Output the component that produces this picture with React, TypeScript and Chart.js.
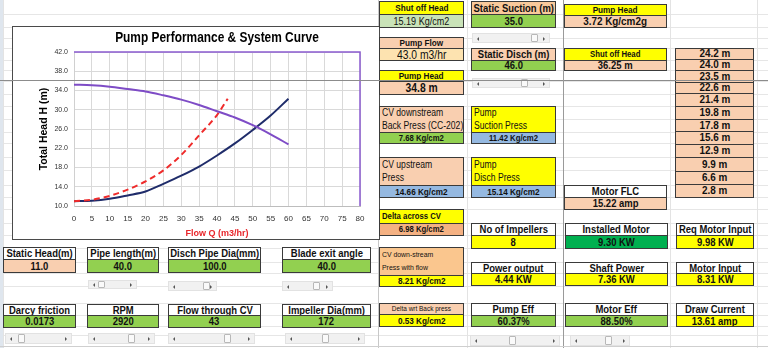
import React, { useEffect, useRef } from "react";
import { Chart, registerables } from "chart.js";

Chart.register(...registerables);

// ---------------- chart data ----------------
const chartTitle = "Pump Performance & System Curve";
const xAxisTitle = "Flow Q (m3/hr)";
const yAxisTitle = "Total Head H (m)";

const pumpFlow = [0, 5, 10, 15, 20, 25, 30, 35, 40, 45, 50, 55, 60];
const pumpHead = [35.2, 35.1, 34.8, 34.3, 33.8, 33.0, 32.1, 31.0, 29.7, 28.4, 26.8, 24.9, 22.8];

const systemFlow = [0, 5, 10, 15, 20, 25, 30, 35, 40, 45, 50, 55, 60];
const systemHead = [11.0, 11.1, 11.5, 12.2, 13.0, 14.6, 16.3, 18.2, 20.5, 23.0, 25.8, 28.8, 32.3];

const cvFlow = [0, 5, 10, 15, 20, 25, 30, 35, 40, 43];
const cvHead = [11.0, 11.3, 12.1, 13.4, 15.1, 17.4, 20.6, 24.7, 28.9, 32.3];

const xMin = 0;
const xMax = 80;
const xStep = 5;
const yMin = 10;
const yMax = 42;
const yStep = 4;

// table of heads shown at the right
const headList = ["24.2 m", "24.0 m", "23.5 m", "22.6 m", "21.4 m", "19.8 m", "17.8 m", "15.6 m", "12.9 m", "9.9 m", "6.6 m", "2.8 m"];

// ---------------- styles ----------------
const FONT = "'Liberation Sans', Arial, sans-serif";
const Y = "#ffff00";
const S = "#f9cfb0";
const G = "#92d050";
const LB = "#95b9e1";
const W = "#ffffff";

type CellDef = {
  x: number; y: number; w: number; h: number;
  t?: string; lines?: string[];
  bg: string; fs?: number; fw?: number; left?: boolean; noBorder?: boolean;
};

const cells: CellDef[] = [
  // column A
  { x: 379, y: 1, w: 85, h: 14, t: "Shut off Head", bg: Y, fs: 9.5 },
  { x: 379, y: 14, w: 85, h: 14, t: "15.19 Kg/cm2", bg: "#c9e3b8", fs: 10.5, fw: 400 },
  { x: 379, y: 37, w: 85, h: 12, t: "Pump Flow", bg: S, fs: 9.5 },
  { x: 379, y: 48, w: 85, h: 13, t: "43.0 m3/hr", bg: "#fde3b0", fs: 12, fw: 400 },
  { x: 379, y: 70, w: 85, h: 12, t: "Pump Head", bg: Y, fs: 9.5 },
  { x: 379, y: 81, w: 85, h: 14, t: "34.8 m", bg: S, fs: 12 },
  { x: 379, y: 106, w: 85, h: 27, lines: ["CV downstream", "Back Press (CC-202)"], bg: S, fs: 10, fw: 400, left: true },
  { x: 379, y: 132, w: 85, h: 12, t: "7.68 Kg/cm2", bg: G, fs: 9 },
  { x: 379, y: 157, w: 85, h: 29, lines: ["CV upstream", "Press"], bg: S, fs: 10, fw: 400, left: true },
  { x: 379, y: 185, w: 85, h: 13, t: "14.66 Kg/cm2", bg: LB, fs: 9.5 },
  { x: 379, y: 209, w: 85, h: 15, t: "Delta across CV", bg: Y, fs: 9, left: true },
  { x: 379, y: 223, w: 85, h: 13, t: "6.98 Kg/cm2", bg: "#f4b183", fs: 9 },
  { x: 379, y: 247, w: 85, h: 29, lines: ["CV down-stream", "Press with flow"], bg: "#fac68e", fs: 8, fw: 400, left: true },
  { x: 379, y: 275, w: 85, h: 12, t: "8.21 Kg/cm2", bg: Y, fs: 9.5 },
  { x: 379, y: 303, w: 85, h: 12, t: "Delta wrt Back press", bg: S, fs: 7.5, fw: 400 },
  { x: 379, y: 314, w: 85, h: 13, t: "0.53 Kg/cm2", bg: Y, fs: 9.5 },
  // column B
  { x: 471, y: 1, w: 85, h: 14, t: "Static Suction (m)", bg: "#f9c99b", fs: 11 },
  { x: 471, y: 14, w: 85, h: 14, t: "35.0", bg: G, fs: 11 },
  { x: 471, y: 48, w: 85, h: 13, t: "Static Disch (m)", bg: S, fs: 11 },
  { x: 471, y: 60, w: 85, h: 11, t: "46.0", bg: G, fs: 11 },
  { x: 471, y: 106, w: 85, h: 27, lines: ["Pump", "Suction Press"], bg: Y, fs: 10, fw: 400, left: true },
  { x: 471, y: 132, w: 85, h: 12, t: "11.42 Kg/cm2", bg: LB, fs: 9 },
  { x: 471, y: 157, w: 85, h: 29, lines: ["Pump", "Disch Press"], bg: Y, fs: 10, fw: 400, left: true },
  { x: 471, y: 185, w: 85, h: 13, t: "15.14 Kg/cm2", bg: LB, fs: 9.5 },
  { x: 471, y: 223, w: 85, h: 13, t: "No of Impellers", bg: W, fs: 11 },
  { x: 471, y: 235, w: 85, h: 14, t: "8", bg: Y, fs: 11 },
  { x: 471, y: 262, w: 85, h: 12, t: "Power output", bg: W, fs: 11 },
  { x: 471, y: 273, w: 85, h: 13, t: "4.44 KW", bg: Y, fs: 11 },
  { x: 471, y: 303, w: 85, h: 13, t: "Pump Eff", bg: W, fs: 11 },
  { x: 471, y: 315, w: 85, h: 12, t: "60.37%", bg: G, fs: 11 },
  // column C
  { x: 564, y: 4, w: 103, h: 12, t: "Pump Head", bg: Y, fs: 9.5 },
  { x: 564, y: 15, w: 103, h: 13, t: "3.72 Kg/cm2g", bg: S, fs: 11.5 },
  { x: 564, y: 48, w: 103, h: 13, t: "Shut off Head", bg: Y, fs: 9 },
  { x: 564, y: 60, w: 103, h: 11, t: "36.25 m", bg: S, fs: 11 },
  { x: 564, y: 185, w: 103, h: 13, t: "Motor FLC", bg: W, fs: 11 },
  { x: 564, y: 197, w: 103, h: 13, t: "15.22 amp", bg: S, fs: 11 },
  { x: 565, y: 223, w: 103, h: 13, t: "Installed Motor", bg: W, fs: 11 },
  { x: 565, y: 235, w: 103, h: 14, t: "9.30 KW", bg: "#00b050", fs: 11 },
  { x: 565, y: 262, w: 103, h: 12, t: "Shaft Power", bg: W, fs: 11 },
  { x: 565, y: 273, w: 103, h: 13, t: "7.36 KW", bg: Y, fs: 11 },
  { x: 565, y: 303, w: 103, h: 13, t: "Motor Eff", bg: W, fs: 11 },
  { x: 565, y: 315, w: 103, h: 12, t: "88.50%", bg: G, fs: 11 },
  // column D
  { x: 676, y: 223, w: 78, h: 13, t: "Req Motor Input", bg: W, fs: 11 },
  { x: 676, y: 235, w: 78, h: 14, t: "9.98 KW", bg: Y, fs: 11 },
  { x: 676, y: 262, w: 78, h: 12, t: "Motor Input", bg: W, fs: 11 },
  { x: 676, y: 273, w: 78, h: 13, t: "8.31 KW", bg: Y, fs: 11 },
  { x: 676, y: 303, w: 78, h: 13, t: "Draw Current", bg: W, fs: 11 },
  { x: 676, y: 315, w: 78, h: 12, t: "13.61 amp", bg: Y, fs: 11 },
  // below chart
  { x: 3, y: 247, w: 73, h: 13, t: "Static Head(m)", bg: W, fs: 11 },
  { x: 3, y: 259, w: 73, h: 14, t: "11.0", bg: S, fs: 11 },
  { x: 87, y: 247, w: 72, h: 13, t: "Pipe length(m)", bg: W, fs: 11 },
  { x: 87, y: 259, w: 72, h: 14, t: "40.0", bg: G, fs: 11 },
  { x: 168, y: 247, w: 93, h: 13, t: "Disch Pipe Dia(mm)", bg: W, fs: 11 },
  { x: 168, y: 259, w: 93, h: 14, t: "100.0", bg: G, fs: 11 },
  { x: 282, y: 247, w: 89, h: 13, t: "Blade exit angle", bg: W, fs: 11 },
  { x: 282, y: 259, w: 89, h: 14, t: "40.0", bg: G, fs: 11 },
  { x: 3, y: 304, w: 73, h: 12, t: "Darcy friction", bg: W, fs: 11 },
  { x: 3, y: 315, w: 73, h: 13, t: "0.0173", bg: G, fs: 11 },
  { x: 87, y: 304, w: 72, h: 12, t: "RPM", bg: W, fs: 11 },
  { x: 87, y: 315, w: 72, h: 13, t: "2920", bg: G, fs: 11 },
  { x: 168, y: 304, w: 93, h: 12, t: "Flow through CV", bg: W, fs: 11 },
  { x: 168, y: 315, w: 93, h: 13, t: "43", bg: G, fs: 11 },
  { x: 282, y: 304, w: 89, h: 12, t: "Impeller Dia(mm)", bg: W, fs: 11 },
  { x: 282, y: 315, w: 89, h: 13, t: "172", bg: G, fs: 11 },
];

const headRowTops = [48, 59, 70, 82, 93, 106, 119, 131, 144, 157, 171, 184, 197];

// scrollbars: x, y, w, h, thumb left
const scrollbars: number[][] = [
  [472, 33, 78, 10, 530],
  [472, 78, 78, 10, 520],
  [88, 280, 49, 9, 97],
  [168, 281, 49, 10, 202],
  [282, 281, 51, 10, 312],
  [5, 333, 67, 11, 17],
  [88, 333, 67, 11, 127],
  [168, 333, 87, 11, 223],
  [285, 333, 80, 11, 321],
  [470, 335, 90, 11, 508],
  [570, 335, 60, 11, 604],
];

const gridRows = [14, 27, 38, 48, 60, 70, 81, 94, 106, 119, 132, 143, 157, 170, 185, 197, 209, 223, 235, 248, 262, 273, 286, 303, 315, 326, 335];
const gridCols = [3, 378, 467, 670, 757];

function Cell({ c }: { c: CellDef }) {
  const fs = c.fs ?? 11;
  const fw = c.fw ?? 700;
  const lines = c.lines ?? [c.t ?? ""];
  return (
    <div
      style={{
        position: "absolute",
        left: c.x,
        top: c.y,
        width: c.w,
        height: c.h,
        boxSizing: "border-box",
        border: c.noBorder ? "none" : "1px solid #3a3a3a",
        background: c.bg,
        display: "flex",
        flexDirection: "column",
        justifyContent: c.lines ? "space-around" : "center",
        alignItems: c.left ? "flex-start" : "center",
        paddingLeft: c.left ? 2 : 0,
        fontFamily: FONT,
        fontSize: fs,
        fontWeight: fw,
        lineHeight: 1,
        color: "#111",
        overflow: "hidden",
        whiteSpace: "nowrap",
      }}
    >
      {lines.map((l, i) => (
        <span
          key={i}
          style={{
            display: "inline-block",
            transform: "scaleX(0.86)",
            transformOrigin: c.left ? "left center" : "center center",
          }}
        >
          {l}
        </span>
      ))}
    </div>
  );
}

function Scrollbar({ s }: { s: number[] }) {
  const [x, y, w, h, tl] = s;
  const tri = (dir: "l" | "r") => ({
    position: "absolute" as const,
    top: h / 2 - 2.5,
    [dir === "l" ? "left" : "right"]: 4,
    width: 0,
    height: 0,
    borderTop: "2.5px solid transparent",
    borderBottom: "2.5px solid transparent",
    [dir === "l" ? "borderRight" : "borderLeft"]: "2.5px solid #555",
  });
  return (
    <div style={{ position: "absolute", left: x, top: y, width: w, height: h, boxSizing: "border-box", background: "#f1f1f1", border: "1px solid #e2e2e2" }}>
      <div style={tri("l")} />
      <div style={tri("r")} />
      <div style={{ position: "absolute", left: tl - x, top: 0, width: 7, height: h - 2, boxSizing: "border-box", background: "#fafafa", border: "1px solid #b8b8b8", borderRadius: 1 }} />
    </div>
  );
}

function PumpChart() {
  const ref = useRef<HTMLCanvasElement | null>(null);
  useEffect(() => {
    if (!ref.current) return;
    const toPts = (xs: number[], ys: number[]) => xs.map((x, i) => ({ x, y: ys[i] }));
    const decor = {
      id: "decor",
      beforeDatasetsDraw(chart: any) {
        const { ctx, chartArea } = chart;
        ctx.save();
        ctx.strokeStyle = "#8a5bd0";
        ctx.lineWidth = 1.5;
        ctx.beginPath();
        ctx.moveTo(chartArea.left, chartArea.top);
        ctx.lineTo(chartArea.right, chartArea.top);
        ctx.lineTo(chartArea.right, chartArea.bottom);
        ctx.stroke();
        ctx.restore();
      },
      afterDraw(chart: any) {
        const { ctx, chartArea } = chart;
        ctx.save();
        const cx = (chartArea.left + chartArea.right) / 2;
        ctx.translate(cx, 11);
        ctx.scale(0.85, 1);
        ctx.font = "bold 14px 'Liberation Sans', Arial, sans-serif";
        ctx.fillStyle = "#000";
        ctx.textAlign = "center";
        ctx.textBaseline = "middle";
        ctx.fillText(chartTitle, 0, 0);
        ctx.restore();
      },
    };
    const chart = new Chart(ref.current, {
      type: "scatter",
      data: {
        datasets: [
          {
            label: "Pump curve",
            data: toPts(pumpFlow, pumpHead),
            showLine: true,
            borderColor: "#7e4cc6",
            borderWidth: 2,
            pointRadius: 0,
            cubicInterpolationMode: "monotone",
          },
          {
            label: "CV system curve",
            data: toPts(cvFlow, cvHead),
            showLine: true,
            borderColor: "#ef2b2b",
            borderWidth: 2,
            borderDash: [6, 4],
            pointRadius: 0,
            cubicInterpolationMode: "monotone",
          },
          {
            label: "System curve",
            data: toPts(systemFlow, systemHead),
            showLine: true,
            borderColor: "#1f2c6a",
            borderWidth: 2,
            pointRadius: 0,
            cubicInterpolationMode: "monotone",
          },
        ],
      },
      options: {
        animation: false,
        responsive: false,
        layout: { padding: { left: 0, right: 19, top: 25, bottom: 0 } },
        plugins: { legend: { display: false }, tooltip: { enabled: false }, title: { display: false } },
        scales: {
          x: {
            type: "linear",
            min: xMin,
            max: xMax,
            afterFit: (s: any) => { s.height = 33; },
            ticks: { stepSize: xStep, padding: 8, color: "#333", font: { size: 8, family: FONT } },
            grid: { color: "#d9d9d9", drawTicks: false },
            border: { color: "#bdbdbd" },
            title: { display: true, text: xAxisTitle, color: "#e8262b", font: { size: 9, weight: "bold", family: FONT }, padding: { top: 1, bottom: 0 } },
          },
          y: {
            type: "linear",
            min: yMin,
            max: yMax,
            afterFit: (s: any) => { s.width = 61; },
            ticks: { stepSize: yStep, padding: 6, color: "#333", font: { size: 7, family: FONT }, callback: (v: any) => Number(v).toFixed(1) },
            grid: { color: "#d9d9d9", drawTicks: false },
            border: { color: "#d0d0d0" },
            title: { display: true, text: yAxisTitle, color: "#000", font: { size: 10.5, weight: "bold", family: FONT }, padding: { top: 25, bottom: 0 } },
          },
        },
      },
      plugins: [decor],
    } as any);
    return () => chart.destroy();
  }, []);
  return <canvas ref={ref} width={366} height={212} style={{ position: "absolute", left: 0, top: 0, width: 366, height: 212 }} />;
}

export default function App() {
  return (
    <div style={{ position: "fixed", left: 0, top: 0, width: 768, height: 348, background: "#fff", overflow: "hidden", fontFamily: FONT }}>
      {/* sheet gridlines */}
      {gridRows.map((r) => (
        <div key={"r" + r} style={{ position: "absolute", left: 0, top: r, width: 768, height: 1, background: "#e6e6e6" }} />
      ))}
      {gridCols.map((c) => (
        <div key={"c" + c} style={{ position: "absolute", left: c, top: 0, width: 1, height: 348, background: "#e3e3e3" }} />
      ))}
      <div style={{ position: "absolute", left: 0, top: 0, width: 3, height: 348, background: "#dfe6ee" }} />
      <div style={{ position: "absolute", left: 378, top: 0, width: 1, height: 348, background: "#c8c8c8" }} />

      {/* chart box */}
      <div style={{ position: "absolute", left: 12, top: 26, width: 368, height: 214, boxSizing: "border-box", border: "1px solid #4a4a4a", background: "#fff" }}>
        <PumpChart />
      </div>

      {cells.map((c, i) => <Cell key={i} c={c} />)}
      {headList.map((t, i) => (
        <Cell key={"h" + i} c={{ x: 675, y: headRowTops[i], w: 79, h: headRowTops[i + 1] - headRowTops[i] + 1, t, bg: S, fs: 11.5 }} />
      ))}
      {scrollbars.map((s, i) => <Scrollbar key={"s" + i} s={s} />)}

      {/* freeze-pane lines */}
      <div style={{ position: "absolute", left: 0, top: 80, width: 768, height: 1, background: "#8c8c8c" }} />
      <div style={{ position: "absolute", left: 563, top: 0, width: 1, height: 348, background: "#9a9a9a" }} />
      <div style={{ position: "absolute", left: 0, top: 346, width: 768, height: 1, background: "#cfcfcf" }} />
    </div>
  );
}
